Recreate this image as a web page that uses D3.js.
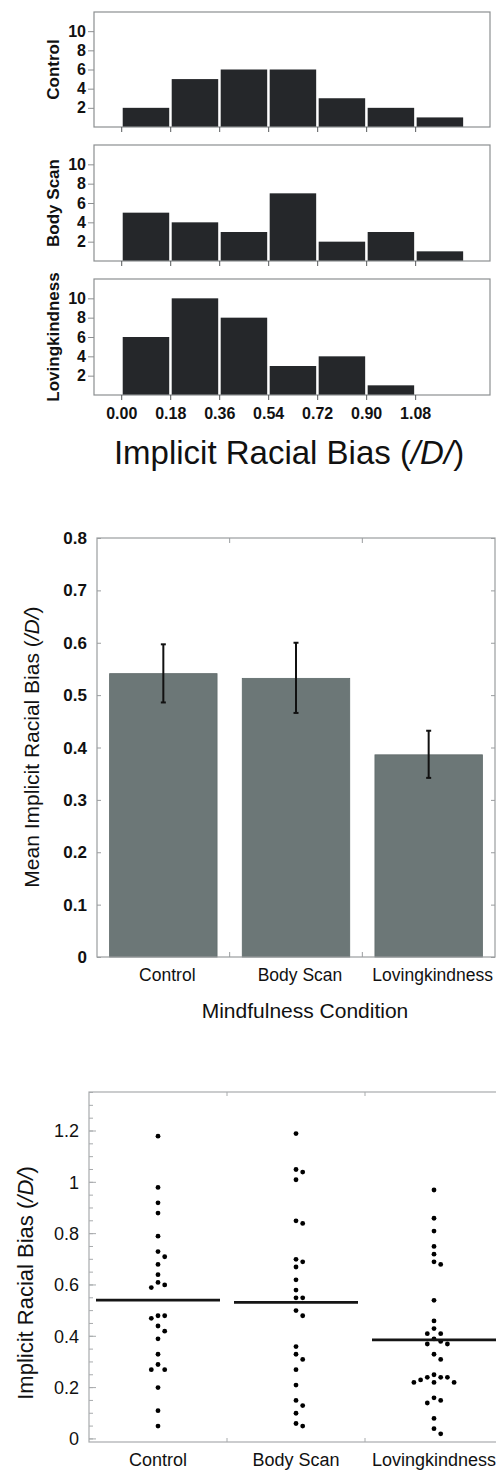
<!DOCTYPE html>
<html>
<head>
<meta charset="utf-8">
<script src="https://cdn.jsdelivr.net/npm/d3@7"></script>
<style>
  html, body { margin: 0; padding: 0; background: #fff; }
  svg { display: block; }
  text { font-family: "Liberation Sans", Arial, Helvetica, sans-serif; fill: #111; }
</style>
</head>
<body>
<svg id="chart" width="496" height="1470"></svg>
<script>
// ---------------- DATA ----------------
const conditions = ["Control", "Body Scan", "Lovingkindness"];

// Histogram bin edges and tick labels (|D| values)
const histEdges = [0, 0.18, 0.36, 0.54, 0.72, 0.90, 1.08, 1.26];
const histTickLabels = ["0.00", "0.18", "0.36", "0.54", "0.72", "0.90", "1.08"];
const histYTicks = [2, 4, 6, 8, 10];

// Histogram counts per bin
const histControl = [2, 5, 6, 6, 3, 2, 1];
const histBodyScan = [5, 4, 3, 7, 2, 3, 1];
const histLoving = [6, 10, 8, 3, 4, 1, 0];

// Bar chart: mean implicit racial bias with error bar limits
const meanBias = [0.541, 0.532, 0.386];
const errUpper = [0.597, 0.600, 0.432];
const errLower = [0.486, 0.466, 0.342];
const barYTicks = [0, 0.1, 0.2, 0.3, 0.4, 0.5, 0.6, 0.7, 0.8];
const barYTickLabels = ["0", "0.1", "0.2", "0.3", "0.4", "0.5", "0.6", "0.7", "0.8"];

// Dot plot: individual |D| scores
const dotsControl = [1.18, 0.98, 0.92, 0.88, 0.79, 0.73, 0.71, 0.68, 0.64, 0.61, 0.60, 0.59,
  0.48, 0.48, 0.47, 0.44, 0.42, 0.39, 0.33, 0.29, 0.27, 0.27, 0.20, 0.11, 0.05];
const dotsBodyScan = [1.19, 1.05, 1.04, 1.01, 0.85, 0.84, 0.70, 0.69, 0.67, 0.62, 0.58, 0.55,
  0.55, 0.50, 0.48, 0.36, 0.33, 0.31, 0.27, 0.21, 0.15, 0.13, 0.10, 0.06, 0.05];
const dotsLoving = [0.97, 0.86, 0.81, 0.75, 0.72, 0.69, 0.68, 0.54, 0.46, 0.43, 0.41, 0.41,
  0.39, 0.38, 0.37, 0.37, 0.33, 0.31, 0.25, 0.24, 0.24, 0.24, 0.23, 0.22, 0.22, 0.22,
  0.16, 0.15, 0.14, 0.08, 0.04, 0.02];
const dotYTicks = [0, 0.2, 0.4, 0.6, 0.8, 1.0, 1.2];
const dotYTickLabels = ["0", "0.2", "0.4", "0.6", "0.8", "1", "1.2"];
const dotMinorTicks = d3.range(0, 1.351, 0.05);

// ---------------- DRAW ----------------
const svg = d3.select("#chart");
const FONT = '"Liberation Sans", Arial, Helvetica, sans-serif';

// ===== 1. Histograms =====
const hx = d3.scaleLinear().domain([-0.1, 1.355]).range([94, 490]);
const panels = [
  { name: conditions[0], counts: histControl, top: 12, bottom: 127 },
  { name: conditions[1], counts: histBodyScan, top: 145, bottom: 261 },
  { name: conditions[2], counts: histLoving, top: 279, bottom: 395 }
];

panels.forEach((p, i) => {
  const g = svg.append("g");
  const hy = d3.scaleLinear().domain([0, 12]).range([p.bottom, p.top]);
  const bins = p.counts.map((c, k) => ({ x0: histEdges[k], x1: histEdges[k + 1], c }));

  g.selectAll("rect.bar").data(bins.filter(b => b.c > 0)).join("rect")
    .attr("class", "bar")
    .attr("x", d => hx(d.x0) + 1.5)
    .attr("width", d => hx(d.x1) - hx(d.x0) - 2.5)
    .attr("y", d => hy(d.c))
    .attr("height", d => hy(0) - hy(d.c))
    .attr("fill", "#25272a");

  // frame
  g.append("rect")
    .attr("x", hx.range()[0]).attr("y", p.top)
    .attr("width", hx.range()[1] - hx.range()[0]).attr("height", p.bottom - p.top)
    .attr("fill", "none").attr("stroke", "#8c8f91").attr("stroke-width", 1.2);

  // y axis
  const ya = g.append("g").attr("transform", `translate(${hx.range()[0]},0)`)
    .call(d3.axisLeft(hy).tickValues(histYTicks).tickSize(6).tickPadding(2));
  ya.select(".domain").remove();
  ya.selectAll("line").attr("stroke", "#8c8f91");
  ya.selectAll("text").attr("font-family", FONT).attr("font-size", 16).attr("font-weight", "bold").attr("fill", "#111");

  // x axis
  const xa = g.append("g").attr("transform", `translate(0,${p.bottom})`)
    .call(d3.axisBottom(hx).tickValues(histEdges.slice(0, 7)).tickSize(5).tickPadding(8)
      .tickFormat((d, k) => i === 2 ? histTickLabels[k] : ""));
  xa.select(".domain").remove();
  xa.selectAll("line").attr("stroke", "#55585a");
  xa.selectAll("text").attr("font-family", FONT).attr("font-size", 16).attr("font-weight", "bold").attr("fill", "#111");

  // panel label
  g.append("text")
    .attr("transform", `translate(59,${(p.top + p.bottom) / 2}) rotate(-90)`)
    .attr("text-anchor", "middle")
    .attr("font-size", 17).attr("font-weight", "bold")
    .text(p.name);
});

const t1 = svg.append("text")
  .attr("x", 289).attr("y", 464).attr("text-anchor", "middle")
  .attr("font-size", 33);
t1.append("tspan").text("Implicit Racial Bias (");
t1.append("tspan").attr("font-style", "italic").text("/D/");
t1.append("tspan").text(")");

// ===== 2. Bar chart =====
const bx = d3.scaleBand().domain(conditions).range([97, 495]).paddingInner(0.19).paddingOuter(0.095);
const bxOuter = d3.scaleBand().domain(conditions).range([97, 495]);
const by = d3.scaleLinear().domain([0, 0.8]).range([957, 538]);

const bg = svg.append("g");
bg.selectAll("rect.mbar").data(conditions).join("rect")
  .attr("class", "mbar")
  .attr("x", d => bx(d))
  .attr("width", bx.bandwidth())
  .attr("y", (d, i) => by(meanBias[i]))
  .attr("height", (d, i) => by(0) - by(meanBias[i]))
  .attr("fill", "#6c7777").attr("stroke", "#5f6a6a").attr("stroke-width", 0.8);

// error bars
const eg = bg.append("g").attr("stroke", "#111").attr("stroke-width", 2);
conditions.forEach((c, i) => {
  const cx = bx(c) + bx.bandwidth() / 2;
  eg.append("line").attr("x1", cx).attr("x2", cx).attr("y1", by(errUpper[i])).attr("y2", by(errLower[i]));
  eg.append("line").attr("x1", cx - 2.5).attr("x2", cx + 2.5).attr("y1", by(errUpper[i])).attr("y2", by(errUpper[i]));
  eg.append("line").attr("x1", cx - 2.5).attr("x2", cx + 2.5).attr("y1", by(errLower[i])).attr("y2", by(errLower[i]));
});

// frame
bg.append("rect").attr("x", 97).attr("y", 538).attr("width", 398).attr("height", 419)
  .attr("fill", "none").attr("stroke", "#9a9d9f").attr("stroke-width", 1.2);

// y axis (ticks inward) left & right
const bya = bg.append("g").attr("transform", "translate(97,0)")
  .call(d3.axisRight(by).tickValues(barYTicks).tickSize(4).tickFormat(""));
bya.select(".domain").remove();
bya.selectAll("line").attr("stroke", "#9a9d9f");
const byaR = bg.append("g").attr("transform", "translate(495,0)")
  .call(d3.axisLeft(by).tickValues(barYTicks).tickSize(4).tickFormat(""));
byaR.select(".domain").remove();
byaR.selectAll("line").attr("stroke", "#9a9d9f");
// labels
bg.selectAll("text.bytick").data(barYTicks).join("text")
  .attr("class", "bytick")
  .attr("x", 87).attr("y", d => by(d)).attr("dy", "0.36em")
  .attr("text-anchor", "end").attr("font-size", 17).attr("font-weight", 600)
  .attr("fill", "#222")
  .text((d, k) => barYTickLabels[k]);

// category boundary ticks top & bottom
const bounds = conditions.slice(1).map(c => bxOuter(c));
bg.selectAll("line.btop").data(bounds).join("line").attr("class", "btop")
  .attr("x1", d => d).attr("x2", d => d).attr("y1", 538).attr("y2", 543).attr("stroke", "#9a9d9f");
bg.selectAll("line.bbot").data(bounds).join("line").attr("class", "bbot")
  .attr("x1", d => d).attr("x2", d => d).attr("y1", 957).attr("y2", 952).attr("stroke", "#9a9d9f");

// category labels
bg.selectAll("text.bcat").data(conditions).join("text").attr("class", "bcat")
  .attr("x", d => bxOuter(d) + bxOuter.bandwidth() / 2 + 4)
  .attr("y", 981).attr("text-anchor", "middle").attr("font-size", 17.5)
  .text(d => d);

bg.append("text").attr("x", 305).attr("y", 1018).attr("text-anchor", "middle")
  .attr("font-size", 21).text("Mindfulness Condition");

const t2 = bg.append("text")
  .attr("transform", "translate(38.5,747) rotate(-90)")
  .attr("text-anchor", "middle").attr("font-size", 21);
t2.append("tspan").text("Mean Implicit Racial Bias (");
t2.append("tspan").attr("font-style", "italic").text("/D/");
t2.append("tspan").text(")");

// ===== 3. Dot plot =====
const dx = d3.scaleBand().domain(conditions).range([89, 503]);
const dy = d3.scaleLinear().domain([-0.012, 1.352]).range([1442, 1092]);
const dg = svg.append("g");

// frame
dg.append("rect").attr("x", 89).attr("y", 1092).attr("width", 414).attr("height", 350)
  .attr("fill", "none").attr("stroke", "#a8abad").attr("stroke-width", 1.2);

// minor + major ticks inward on left
dg.selectAll("line.minor").data(dotMinorTicks).join("line").attr("class", "minor")
  .attr("x1", 89).attr("x2", 93).attr("y1", d => dy(d)).attr("y2", d => dy(d))
  .attr("stroke", "#a8abad");
dg.selectAll("line.major").data(dotYTicks).join("line").attr("class", "major")
  .attr("x1", 89).attr("x2", 96).attr("y1", d => dy(d)).attr("y2", d => dy(d))
  .attr("stroke", "#a8abad");
dg.selectAll("text.dytick").data(dotYTicks).join("text").attr("class", "dytick")
  .attr("x", 79).attr("y", d => dy(d)).attr("dy", "0.36em")
  .attr("text-anchor", "end").attr("font-size", 18).attr("fill", "#222")
  .text((d, k) => dotYTickLabels[k]);

// boundary ticks
const dbounds = conditions.slice(1).map(c => dx(c));
dg.selectAll("line.dtop").data(dbounds).join("line").attr("class", "dtop")
  .attr("x1", d => d).attr("x2", d => d).attr("y1", 1092).attr("y2", 1096).attr("stroke", "#a8abad");
dg.selectAll("line.dbot").data(dbounds).join("line").attr("class", "dbot")
  .attr("x1", d => d).attr("x2", d => d).attr("y1", 1442).attr("y2", 1438).attr("stroke", "#a8abad");

// swarm layout
function swarm(values, cx) {
  const step = 6.7, minDist = 6.5, placed = [];
  values.forEach(v => {
    const py = dy(v);
    for (let k = 0; k < 40; k++) {
      const slot = k === 0 ? 0 : (k % 2 === 1 ? (k + 1) / 2 : -k / 2);
      const px = cx + slot * step;
      if (placed.every(p => Math.hypot(p.x - px, p.y - py) >= minDist)) {
        placed.push({ x: px, y: py, v });
        break;
      }
    }
  });
  return placed;
}

const dotSets = [dotsControl, dotsBodyScan, dotsLoving];
conditions.forEach((c, i) => {
  const cx = dx(c) + dx.bandwidth() / 2;
  const pts = swarm(dotSets[i], cx);
  dg.append("g").selectAll("circle").data(pts).join("circle")
    .attr("cx", d => d.x).attr("cy", d => d.y).attr("r", 2.4).attr("fill", "#000");
  // mean line
  dg.append("line")
    .attr("x1", dx(c) + 7).attr("x2", dx(c) + dx.bandwidth() - 7)
    .attr("y1", dy(meanBias[i])).attr("y2", dy(meanBias[i]))
    .attr("stroke", "#151515").attr("stroke-width", 2.8);
});

dg.selectAll("text.dcat").data(conditions).join("text").attr("class", "dcat")
  .attr("x", d => dx(d) + dx.bandwidth() / 2)
  .attr("y", 1466).attr("text-anchor", "middle").attr("font-size", 18)
  .text(d => d);

const t3 = dg.append("text")
  .attr("transform", "translate(33,1283) rotate(-90)")
  .attr("text-anchor", "middle").attr("font-size", 22);
t3.append("tspan").text("Implicit Racial Bias (");
t3.append("tspan").attr("font-style", "italic").text("/D/");
t3.append("tspan").text(")");
</script>
</body>
</html>
